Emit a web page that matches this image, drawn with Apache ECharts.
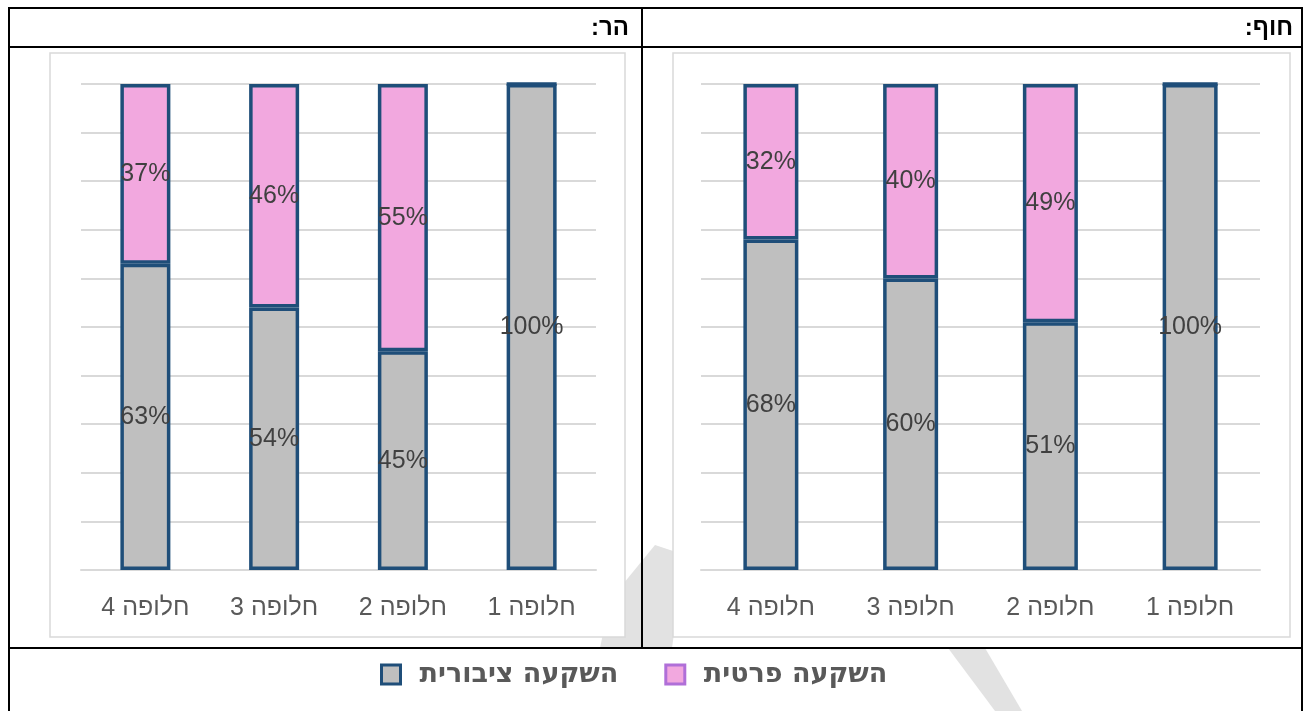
<!DOCTYPE html>
<html>
<head>
<meta charset="utf-8">
<script src="https://cdn.jsdelivr.net/npm/echarts@6/dist/echarts.min.js"></script>
<style>
  html, body { margin: 0; padding: 0; background: #fff; }
  #chart { width: 1303px; height: 711px; }
</style>
</head>
<body>
<div id="chart" dir="rtl"></div>
<script>
const categories = ['חלופה 1', 'חלופה 2', 'חלופה 3', 'חלופה 4']
const seriesNames = ['השקעה ציבורית', 'השקעה פרטית']
const panelTitles = ['הר:', 'חוף:']

// הר
const mountainPublic = [100, 45, 54, 63]
const mountainPrivate = [0, 55, 46, 37]
// חוף
const coastPublic = [100, 51, 60, 68]
const coastPrivate = [0, 49, 40, 32]

const yTicks = [0, 10, 20, 30, 40, 50, 60, 70, 80, 90, 100]

const GRAY = '#bfbfbf'
const PINK = '#f2a8df'
const NAVY = '#1f4e79'
const FONT = 'Liberation Sans, Arial, sans-serif'
const LEGEND_FONT = 'DejaVu Sans, Liberation Sans, sans-serif'

const chart = echarts.init(document.getElementById('chart'))

function barSeries(name, data, gridIndex, color, barWidth, z) {
  return {
    name: name,
    type: 'bar',
    stack: 'total' + gridIndex,
    xAxisIndex: gridIndex,
    yAxisIndex: gridIndex,
    barWidth: barWidth,
    z: z,
    itemStyle: {
      color: color,
      borderColor: NAVY,
      borderWidth: 3.5
    },
    label: {
      show: true,
      position: 'inside',
      color: '#404040',
      fontFamily: FONT,
      fontSize: 25,
      formatter: p => (p.value ? p.value + '%' : '')
    },
    data: data
  }
}

function xAxisFor(gridIndex) {
  return {
    type: 'category',
    gridIndex: gridIndex,
    inverse: true,
    data: categories,
    z: 5,
    axisLine: { lineStyle: { color: '#d9d9d9', width: 2 } },
    axisTick: { show: false },
    axisLabel: {
      color: '#595959',
      fontFamily: FONT,
      fontSize: 25,
      margin: 26
    }
  }
}

function yAxisFor(gridIndex) {
  return {
    type: 'value',
    gridIndex: gridIndex,
    min: yTicks[0],
    max: yTicks[yTicks.length - 1],
    interval: yTicks[1] - yTicks[0],
    z: 5,
    axisLine: { show: false },
    axisTick: { show: false },
    axisLabel: { show: false },
    splitLine: { lineStyle: { color: '#d9d9d9', width: 2 } }
  }
}

const line = (x1, y1, x2, y2) => ({
  type: 'line',
  z: 8,
  shape: { x1, y1, x2, y2 },
  style: { stroke: '#000', lineWidth: 2 }
})

const box = (x, y, w, h) => ({
  type: 'rect',
  z: 2,
  shape: { x, y, width: w, height: h },
  style: { fill: '#fff', stroke: '#d9d9d9', lineWidth: 1.5 }
})

const band = points => ({
  type: 'polygon',
  z: 1,
  shape: { points },
  style: { fill: '#e2e2e2' }
})

chart.setOption({
  backgroundColor: '#fff',
  animation: false,
  textStyle: { fontFamily: FONT },
  grid: [
    { left: 81, width: 515, top: 84, height: 486 },
    { left: 701, width: 559, top: 84, height: 486 }
  ],
  xAxis: [xAxisFor(0), xAxisFor(1)],
  yAxis: [yAxisFor(0), yAxisFor(1)],
  legend: {
    left: 375,
    top: 656,
    itemWidth: 19,
    itemHeight: 19,
    itemGap: 46,
    icon: 'rect',
    textStyle: {
      color: '#595959',
      fontFamily: LEGEND_FONT,
      fontSize: 27,
      fontWeight: 'bold',
      padding: [0, 0, 0, 14]
    },
    data: [
      { name: seriesNames[0], itemStyle: { color: GRAY, borderColor: NAVY, borderWidth: 3 } },
      { name: seriesNames[1], itemStyle: { color: PINK, borderColor: '#b06fd8', borderWidth: 3 } }
    ]
  },
  graphic: [
    // watermark pieces behind the chart boxes
    band([[655, 545], [685, 555], [672, 648], [600, 648], [610, 600]]),
    band([[948, 648], [985, 648], [1022, 711], [995, 711]]),
    // chart boxes
    box(50, 53, 575, 584),
    box(673, 53, 617, 584),
    // table lines
    line(8, 8, 1303, 8),
    line(8, 47, 1303, 47),
    line(8, 648, 1303, 648),
    line(9, 8, 9, 711),
    line(1302, 8, 1302, 711),
    line(642, 8, 642, 648),
    {
      type: 'text',
      z: 8,
      right: 1303 - 629,
      top: 16,
      style: { text: panelTitles[0], fill: '#000', font: 'bold 24px ' + FONT, textAlign: 'right' }
    },
    {
      type: 'text',
      z: 8,
      right: 10,
      top: 16,
      style: { text: panelTitles[1], fill: '#000', font: 'bold 24px ' + FONT, textAlign: 'right' }
    }
  ],
  series: [
    barSeries(seriesNames[0], mountainPublic, 0, GRAY, 50, 6),
    barSeries(seriesNames[1], mountainPrivate, 0, PINK, 50, 7),
    barSeries(seriesNames[0], coastPublic, 1, GRAY, 55, 6),
    barSeries(seriesNames[1], coastPrivate, 1, PINK, 55, 7)
  ]
})
</script>
</body>
</html>
